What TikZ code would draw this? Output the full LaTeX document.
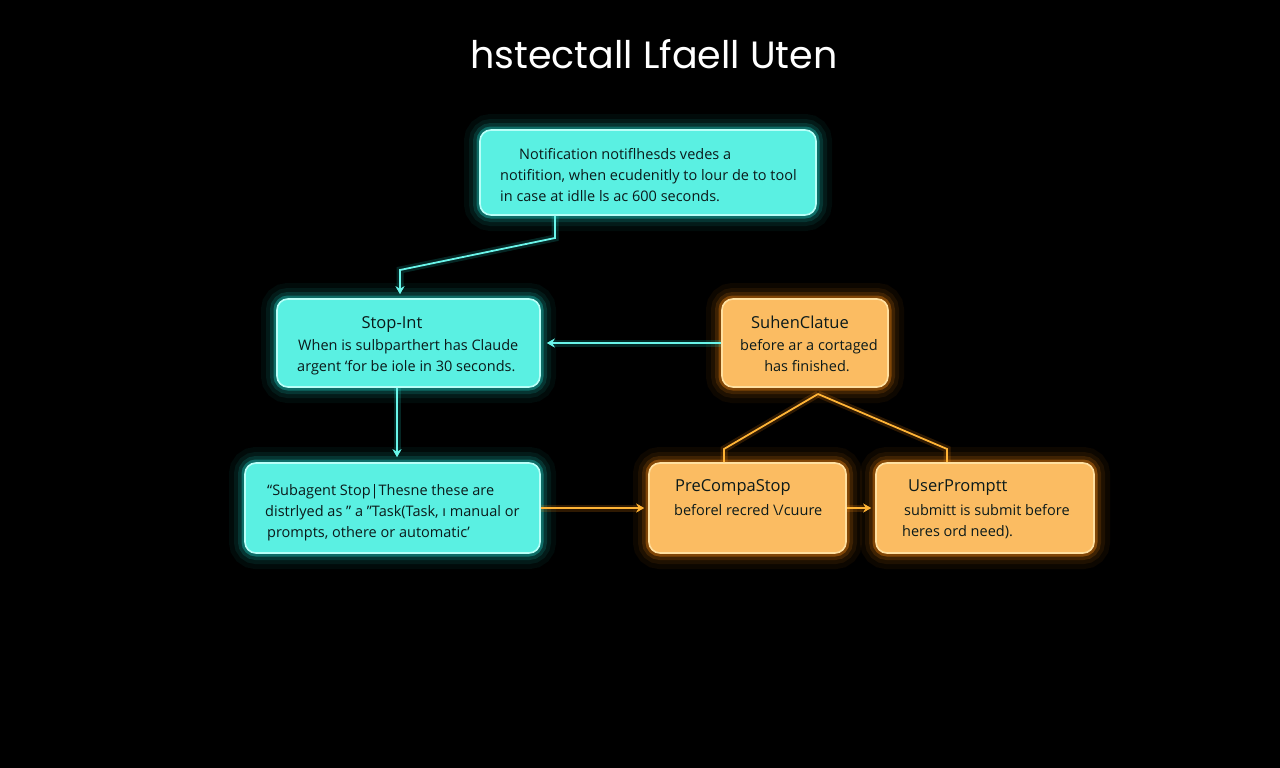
\documentclass[tikz,border=0pt]{standalone}
\usepackage{fontspec}
\setmainfont{Open Sans}
\newfontfamily\titlefont{Poppins}
\usetikzlibrary{arrows.meta}
\definecolor{cyfill}{HTML}{5AF0E2}
\definecolor{cyedge}{HTML}{B8FFF8}
\definecolor{cyglow}{HTML}{1ED8CC}
\definecolor{cyline}{HTML}{6AF5EA}
\definecolor{orfill}{HTML}{FBBC62}
\definecolor{oredge}{HTML}{FFE0A0}
\definecolor{orglow}{HTML}{FF8C10}
\definecolor{orline}{HTML}{FFB436}
\definecolor{txt}{HTML}{0B1A1A}
\tikzset{
  box/.style={rectangle, rounded corners=11pt, line width=1.6pt, inner sep=0pt},
  cybox/.style={box, fill=cyfill, draw=cyedge,
    preaction={draw=cyglow, line width=32pt, draw opacity=0.05},
    preaction={draw=cyglow, line width=22pt, draw opacity=0.08},
    preaction={draw=cyglow, line width=14pt, draw opacity=0.14},
    preaction={draw=cyglow, line width=7pt, draw opacity=0.35}},
  orbox/.style={box, fill=orfill, draw=oredge,
    preaction={draw=orglow, line width=32pt, draw opacity=0.05},
    preaction={draw=orglow, line width=22pt, draw opacity=0.08},
    preaction={draw=orglow, line width=14pt, draw opacity=0.14},
    preaction={draw=orglow, line width=7pt, draw opacity=0.35}},
  tx/.style={anchor=base west, inner sep=0pt, text=txt, font=\fontsize{14.5}{17}\selectfont},
  ttl/.style={anchor=base west, inner sep=0pt, text=txt, font=\fontsize{16.5}{19}\selectfont},
  cyconn/.style={draw=cyline, line width=1.8pt,
    preaction={draw=cyglow, line width=7pt, draw opacity=0.18}},
  orconn/.style={draw=orline, line width=1.8pt,
    preaction={draw=orglow, line width=7pt, draw opacity=0.18}},
  tip/.style={-{Stealth[length=8pt,width=9pt]}}
}
\begin{document}
\begin{tikzpicture}[x=1pt,y=-1pt]
\fill[black] (0,0) rectangle (1280,768);
\useasboundingbox (0,0) rectangle (1280,768);

% title
\node[anchor=base, inner sep=0pt, text=white, font=\titlefont\fontsize{38}{44}\selectfont] (title) at (654,69) {hstectall Lfaell Uten};

% boxes
\node[cybox, minimum width=336pt, minimum height=85pt] (notif) at (648,172.5) {};
\node[cybox, minimum width=263pt, minimum height=88pt] (stopint) at (408.5,343) {};
\node[orbox, minimum width=166pt, minimum height=88pt] (suhen) at (805,343) {};
\node[cybox, minimum width=295pt, minimum height=90pt] (subagent) at (392.5,508) {};
\node[orbox, minimum width=197pt, minimum height=90pt] (precompa) at (747.5,508) {};
\node[orbox, minimum width=218pt, minimum height=90pt] (userprompt) at (985,508) {};

% texts
\node[tx] (n1) at (519,159) {Notification notiflhesds vedes a};
\node[tx] (n2) at (500,180) {notifition, when ecudenitly to lour de to tool};
\node[tx] (n3) at (500,201) {in case at idlle ls ac 600 seconds.};

\node[ttl, anchor=base] (s0) at (392,328) {Stop-Int};
\node[tx] (s1) at (298,350) {When is sulbparthert has Claude};
\node[tx] (s2) at (297,371) {argent ‘for be iole in 30 seconds.};

\node[ttl, anchor=base] (h0) at (800,328) {SuhenClatue};
\node[tx, anchor=base] (h1) at (809,350) {before ar a cortaged};
\node[tx, anchor=base] (h2) at (807,371) {has finished.};

\node[tx] (a1) at (267,495) {“Subagent Stop|Thesne these are};
\node[tx] (a2) at (265,516) {distrlyed as " a "Task(Task, ı manual or};
\node[tx] (a3) at (267,537) {prompts, othere or automatic'};

\node[ttl] (p0) at (675,491) {PreCompaStop};
\node[tx] (p1) at (674,515) {beforel recred \textbackslash/cuure};

\node[ttl] (u0) at (908,491) {UserPromptt};
\node[tx] (u1) at (904,515) {submitt is submit before};
\node[tx] (u2) at (902,536) {heres ord need).};

% connectors
\coordinate (k1) at (555,238);
\coordinate (k2) at (400,270);
\draw[cyconn, tip] (k1 |- notif.south) -- (k1) -- (k2) -- ([yshift=4pt]k2 |- stopint.north);
\coordinate (k3) at (397,0);
\draw[cyconn, tip] (k3 |- stopint.south) -- ([yshift=5pt]k3 |- subagent.north);
\draw[cyconn, tip, shorten >=6pt] (suhen.west) -- (stopint.east);
\draw[orconn, tip, shorten >=4pt] (subagent.east) -- (precompa.west);
\draw[orconn, tip, shorten >=4pt] (precompa.east) -- (userprompt.west);
\coordinate (apex) at (818,394);
\coordinate (bl) at (724,449);
\coordinate (br) at (947,449);
\draw[orconn] (apex) -- (bl) -- (bl |- precompa.north);
\draw[orconn] (apex) -- (br) -- (br |- userprompt.north);
\end{tikzpicture}
\end{document}
